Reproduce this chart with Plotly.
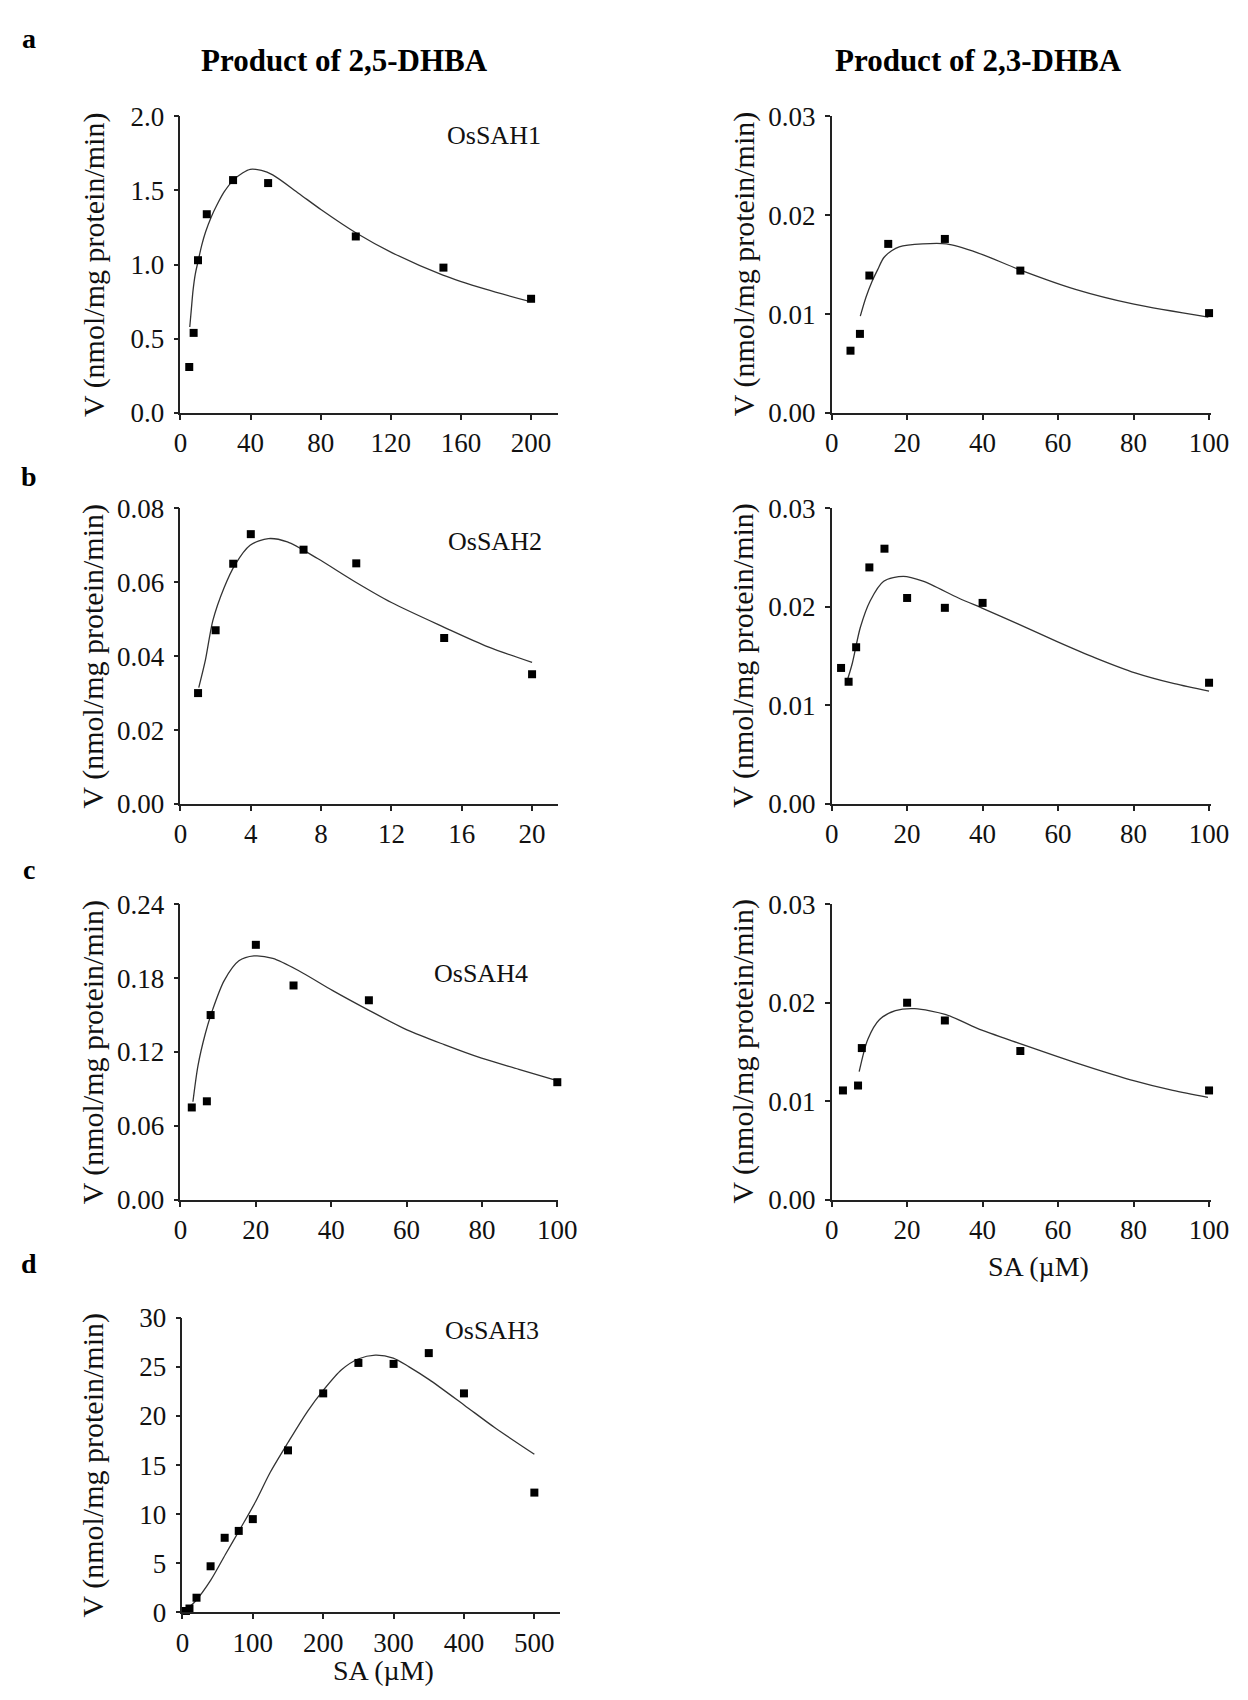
# Substrate-inhibition kinetics of OsSAH enzymes on SA
# left column: 2,5-DHBA product, right column: 2,3-DHBA product

import plotly.graph_objects as go
from plotly.subplots import make_subplots

# ---------------- data ----------------
# a, 2,5-DHBA, OsSAH1
a25_sa = [5, 7.5, 10, 15, 30, 50, 100, 150, 200]
a25_v = [0.31, 0.54, 1.03, 1.34, 1.57, 1.55, 1.19, 0.98, 0.77]
a25_fit_sa = [5.3, 6.2, 7.2, 8.5, 10, 12.1, 14.3, 17.5, 20.7, 24.9, 30.2, 35.6, 39.8,
              46.2, 52.6, 67.5, 80.3, 100, 120.8, 149.7, 174, 199.6]
a25_fit_v = [0.58, 0.70, 0.83, 0.94, 1.02, 1.13, 1.22, 1.32, 1.40, 1.49, 1.57, 1.62, 1.643,
             1.635, 1.605, 1.48, 1.37, 1.215, 1.08, 0.93, 0.835, 0.75]

# a, 2,3-DHBA, OsSAH1
a23_sa = [5, 7.5, 10, 15, 30, 50, 100]
a23_v = [0.0063, 0.0080, 0.0139, 0.0171, 0.0176, 0.0144, 0.0101]
a23_fit_sa = [7.6, 9.1, 10.7, 12.2, 13.8, 15.9, 17.9, 24.1, 30.4, 38.7, 50.4, 64.6, 80.1, 99.8]
a23_fit_v = [0.0098, 0.0117, 0.0133, 0.0145, 0.0157, 0.0164, 0.0168, 0.0171, 0.0171,
             0.0162, 0.0144, 0.0125, 0.0110, 0.0097]

# b, 2,5-DHBA, OsSAH2
b25_sa = [1, 2, 3, 4, 7, 10, 15, 20]
b25_v = [0.030, 0.047, 0.065, 0.073, 0.0688, 0.0651, 0.0449, 0.0351]
b25_fit_sa = [1.04, 1.42, 1.84, 2.48, 3.1, 3.96, 5.0, 6.08, 7.8, 9.9, 12, 15, 17.5, 20]
b25_fit_v = [0.0315, 0.039, 0.0496, 0.0585, 0.0647, 0.070, 0.0718, 0.0709, 0.0664,
             0.0602, 0.0545, 0.0478, 0.0425, 0.0383]

# b, 2,3-DHBA, OsSAH2
b23_sa = [2.5, 4.5, 6.5, 10, 14, 20, 30, 40, 100]
b23_v = [0.0138, 0.0124, 0.0159, 0.0240, 0.0259, 0.0209, 0.0199, 0.0204, 0.0123]
b23_fit_sa = [4.2, 5.5, 7.6, 10.2, 13.8, 19, 24.2, 33.6, 40.3, 49.2, 59.6, 70, 80.4, 90.8, 100]
b23_fit_v = [0.0126, 0.0143, 0.0179, 0.0206, 0.0226, 0.0231, 0.0226, 0.0209, 0.0198,
             0.0183, 0.0165, 0.0148, 0.0133, 0.0122, 0.01145]

# c, 2,5-DHBA, OsSAH4
c25_sa = [3, 7, 8, 20, 30, 50, 100]
c25_v = [0.075, 0.080, 0.150, 0.207, 0.174, 0.162, 0.0955]
c25_fit_sa = [3.3, 4.65, 6.6, 8.6, 11.6, 15.5, 19.5, 24.5, 31.4, 40.3, 49.9, 60.1, 70,
              79.9, 89.8, 99.7]
c25_fit_v = [0.0796, 0.109, 0.135, 0.155, 0.178, 0.194, 0.198, 0.196, 0.186, 0.170,
             0.154, 0.138, 0.126, 0.115, 0.106, 0.097]

# c, 2,3-DHBA, OsSAH4
c23_sa = [3, 7, 8, 20, 30, 50, 100]
c23_v = [0.0111, 0.0116, 0.0154, 0.0200, 0.0182, 0.0151, 0.0111]
c23_fit_sa = [7.3, 9.6, 12.7, 16.9, 22, 30.3, 38.6, 50.3, 59.3, 69.7, 80, 90.4, 99.7]
c23_fit_v = [0.0130, 0.0163, 0.0183, 0.0192, 0.0194, 0.0188, 0.0174, 0.0158, 0.0146,
             0.0133, 0.0121, 0.0111, 0.0104]

# d, 2,5-DHBA, OsSAH3
d25_sa = [5, 10, 20, 40, 60, 80, 100, 150, 200, 250, 300, 350, 400, 500]
d25_v = [0.15, 0.4, 1.5, 4.7, 7.6, 8.3, 9.5, 16.5, 22.3, 25.4, 25.3, 26.4, 22.3, 12.2]
d25_fit_sa = [2.7, 18.6, 40, 61, 82, 104, 125, 150, 178, 200, 226, 249.5, 274, 299.5,
              322, 350.5, 400.5, 444, 500]
d25_fit_v = [0.1, 1.16, 3.26, 5.9, 8.5, 11.3, 14.3, 17.3, 20.5, 22.6, 24.7, 25.8, 26.2,
             25.9, 25.0, 23.7, 21.1, 18.8, 16.1]

# ---------------- page geometry (pixels of the 1248 x 1700 page) ----------------
W, H = 1248, 1700
FONT = "Liberation Serif, Times New Roman, serif"
INK = "#222222"


def xdom(left, right):
    return [left / W, right / W]


def ydom(top, bottom):
    return [1 - bottom / H, 1 - top / H]


LEFT_X = xdom(169, 555)
RIGHT_X = xdom(834, 1221)

# row, col, points, fit, enzyme label, label pos (data), x range, x step, y range, y step, y format, domains
panels = [
    (1, 1, a25_sa, a25_v, a25_fit_sa, a25_fit_v, "OsSAH1", (207, 1.87),
     [0, 215.6], 40, [0, 2.0], 0.5, ".1f", LEFT_X, ydom(95, 397)),
    (1, 2, a23_sa, a23_v, a23_fit_sa, a23_fit_v, "OsSAH1", (104.7, 0.0282),
     [0, 100.4], 20, [0, 0.03], 0.01, ".2f", RIGHT_X, ydom(95, 397)),
    (2, 1, b25_sa, b25_v, b25_fit_sa, b25_fit_v, "OsSAH2", (20.7, 0.0709),
     [0, 21.5], 4, [0, 0.08], 0.02, ".2f", LEFT_X, ydom(494, 795)),
    (2, 2, b23_sa, b23_v, b23_fit_sa, b23_fit_v, "OsSAH2", (104.6, 0.0266),
     [0, 100.4], 20, [0, 0.03], 0.01, ".2f", RIGHT_X, ydom(494, 795)),
    (3, 1, c25_sa, c25_v, c25_fit_sa, c25_fit_v, "OsSAH4", (92.8, 0.184),
     [0, 100.3], 20, [0, 0.24], 0.06, ".2f", LEFT_X, ydom(897, 1198)),
    (3, 2, c23_sa, c23_v, c23_fit_sa, c23_fit_v, "OsSAH4", (104.0, 0.0232),
     [0, 100.4], 20, [0, 0.03], 0.01, ".2f", RIGHT_X, ydom(897, 1198)),
    (4, 1, d25_sa, d25_v, d25_fit_sa, d25_fit_v, "OsSAH3", (510, 28.7),
     [0, 537], 100, [0, 30], 5, "d", xdom(171, 557), ydom(1318, 1618)),
]

fig = make_subplots(
    rows=4,
    cols=2,
    specs=[[{}, {}], [{}, {}], [{}, {}], [{}, None]],
)

axis_style = dict(
    showline=True,
    linecolor=INK,
    linewidth=1.6,
    ticks="outside",
    ticklen=5,
    tickwidth=1.5,
    tickcolor=INK,
    showgrid=False,
    zeroline=False,
    tickfont=dict(family=FONT, size=27, color="#111111"),
)

for i, (r, c, sx, sv, fx, fv, enzyme, lpos, xr, xdt, yr, ydt, yfmt, xd, yd) in enumerate(panels):
    # fitted curve
    fig.add_trace(
        go.Scatter(
            x=fx, y=fv, mode="lines",
            line=dict(color="#333333", width=1.3, shape="spline", smoothing=0.8),
            showlegend=False, hoverinfo="skip",
        ),
        row=r, col=c,
    )
    # measured rates
    fig.add_trace(
        go.Scatter(
            x=sx, y=sv, mode="markers",
            marker=dict(symbol="square", size=8, color="#000000"),
            cliponaxis=False, showlegend=False,
            hovertemplate="SA %{x} µM<br>V %{y}<extra></extra>",
        ),
        row=r, col=c,
    )
    fig.update_xaxes(domain=xd, range=xr, tick0=0, dtick=xdt, row=r, col=c, **axis_style)
    fig.update_yaxes(domain=yd, range=yr, tick0=0, dtick=ydt, tickformat=yfmt,
                     ticklabelstandoff=4, row=r, col=c, **axis_style)

    ax = "" if i == 0 else str(i + 1)
    fig.add_annotation(
        x=lpos[0], y=lpos[1], xref="x" + ax, yref="y" + ax,
        text=enzyme, showarrow=False, xanchor="right", yanchor="middle",
        font=dict(family=FONT, size=26, color="#111111"),
    )
    # y axis title, placed by hand left of the tick labels
    title_x = 80 if c == 1 else 744
    fig.add_annotation(
        x=title_x / W, y=(yd[0] + yd[1]) / 2, xref="paper", yref="paper",
        text="V (nmol/mg protein/min)", textangle=-90, showarrow=False,
        xanchor="center", yanchor="middle",
        font=dict(family=FONT, size=30, color="#111111"),
    )

# column headers
for text, cx in [("Product of 2,5-DHBA", 337), ("Product of 2,3-DHBA", 984)]:
    fig.add_annotation(
        x=cx / W, y=1 - 38 / H, xref="paper", yref="paper", text="<b>" + text + "</b>",
        showarrow=False, xanchor="center", yanchor="middle",
        font=dict(family=FONT, size=31, color="#000000"),
    )

# panel letters
for letter, py in [("a", 16), ("b", 462), ("c", 862), ("d", 1263)]:
    fig.add_annotation(
        x=14 / W, y=1 - py / H, xref="paper", yref="paper", text="<b>" + letter + "</b>",
        showarrow=False, xanchor="center", yanchor="middle",
        font=dict(family=FONT, size=28, color="#000000"),
    )

# x axis titles only under the lowest panel of each column
for cx, cy in [(1045, 1266), (376, 1677)]:
    fig.add_annotation(
        x=cx / W, y=1 - cy / H, xref="paper", yref="paper", text="SA (µM)",
        showarrow=False, xanchor="center", yanchor="middle",
        font=dict(family=FONT, size=28, color="#111111"),
    )

fig.update_layout(
    width=W,
    height=H,
    margin=dict(l=0, r=0, t=0, b=0),
    paper_bgcolor="white",
    plot_bgcolor="white",
    showlegend=False,
)

fig.write_html("out.html")
